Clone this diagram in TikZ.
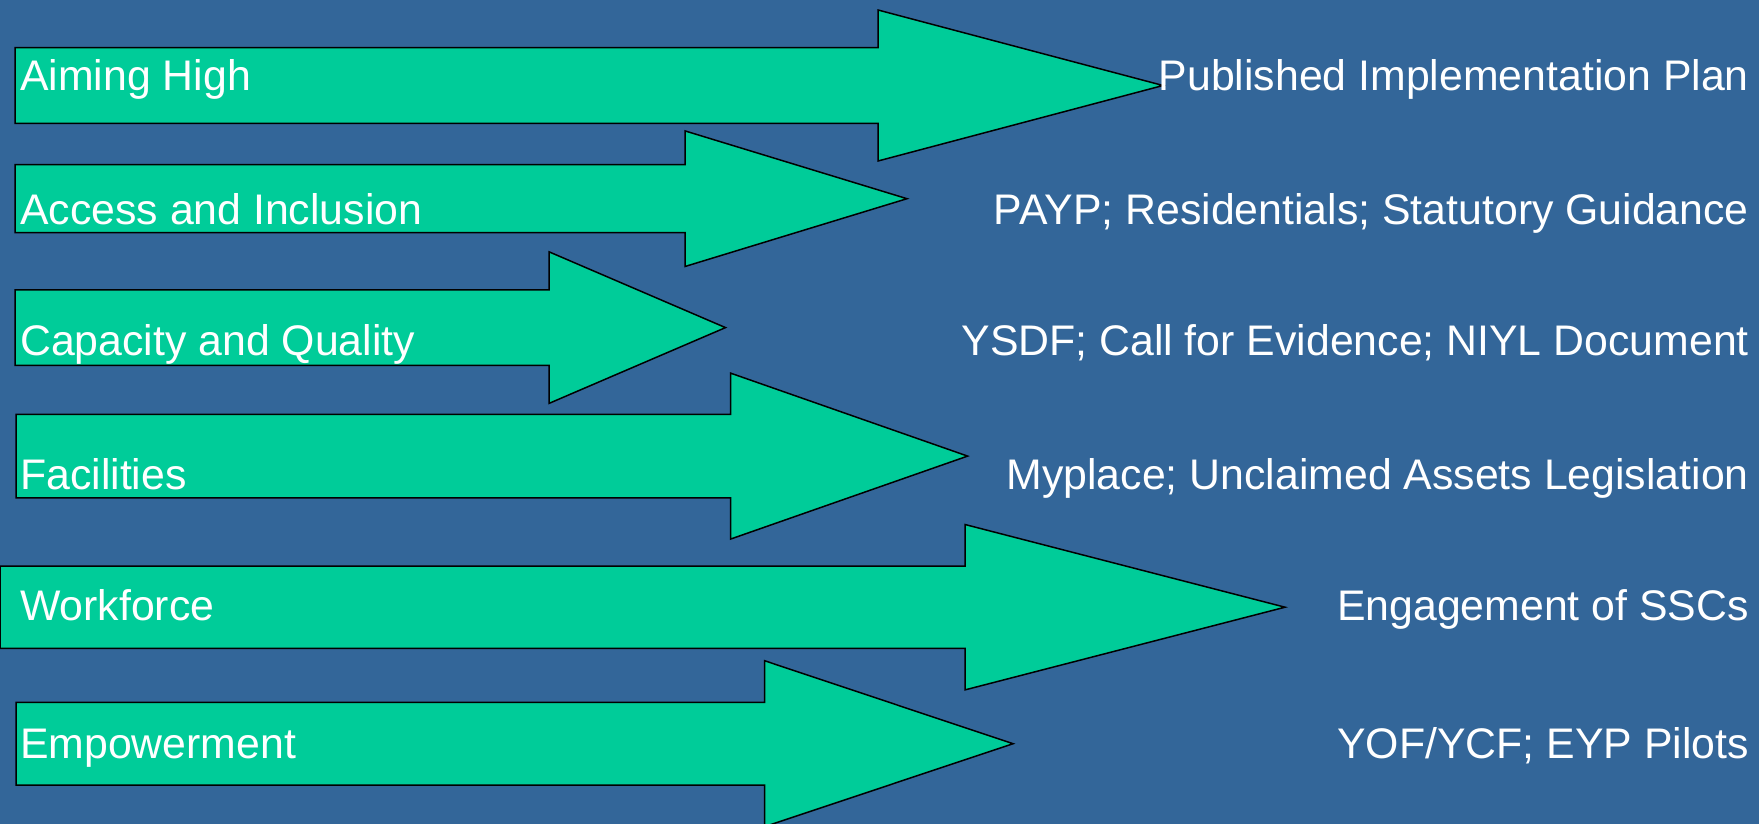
\documentclass[tikz,border=0pt]{standalone}
\usepackage{fontspec}
\setmainfont{Liberation Sans}
\usepackage{tikz}
\definecolor{slideblue}{RGB}{51,102,153}
\definecolor{arrowgreen}{RGB}{0,204,153}
\tikzset{goalfill/.style = {draw=black,line width=1.5pt,fill=#1},
  goalfill/.default = arrowgreen,
  goallabel/.style = {text=white,inner sep=0pt,anchor=base west,font=\fontsize{42.8}{50}\selectfont},
  outcomelabel/.style = {text=white,inner sep=0pt,anchor=base east,font=\fontsize{42.8}{50}\selectfont}}
% left x, centre y, shaft half height, head x, head half height, tip x
\NewDocumentCommand{\goalarrow}{m m m m m m}{%
\draw[goalfill] (#1,#2-#3) -- (#4,#2-#3) -- (#4,#2-#5) -- (#6,#2) -- (#4,#2+#5) -- (#4,#2+#3) -- (#1,#2+#3) -- cycle;
}

\begin{document}
\begin{tikzpicture}[x=1pt,y=-1pt]
\useasboundingbox (0,0) rectangle (1759,824);
\fill[slideblue] (0,0) rectangle (1759,824);

\begin{scope}
\clip (0,0) rectangle (1759,824);
\goalarrow{15}{85.5}{37.8}{878}{75.5}{1163}
\goalarrow{15}{198.7}{34}{685}{67.8}{907}
\goalarrow{15}{327.6}{37.7}{549}{75.8}{725.5}
\goalarrow{16}{456.1}{41.7}{730.5}{83}{967.6}
\goalarrow{0}{607.2}{41.2}{965}{82.7}{1285}
\goalarrow{16}{743.7}{41.3}{764.5}{83}{1013}
\end{scope}

\node[goallabel] (aiming) at (20,91) {Aiming High};
\node[goallabel] (access) at (20,224) {Access and Inclusion};
\node[goallabel] (capacity) at (20,355) {Capacity and Quality};
\node[goallabel] (facilities) at (20,489) {Facilities};
\node[goallabel] (workforce) at (20,620) {Workforce};
\node[goallabel] (empower) at (20,758) {Empowerment};

\node[outcomelabel] (plan) at (1749,91) {Published Implementation Plan};
\node[outcomelabel] (payp) at (1749,224) {PAYP; Residentials; Statutory Guidance};
\node[outcomelabel] (ysdf) at (1749,355) {YSDF; Call for Evidence; NIYL Document};
\node[outcomelabel] (myplace) at (1749,489) {Myplace; Unclaimed Assets Legislation};
\node[outcomelabel] (sscs) at (1749,620) {Engagement of SSCs};
\node[outcomelabel] (yof) at (1749,758) {YOF/YCF; EYP Pilots};
\end{tikzpicture}
\end{document}
